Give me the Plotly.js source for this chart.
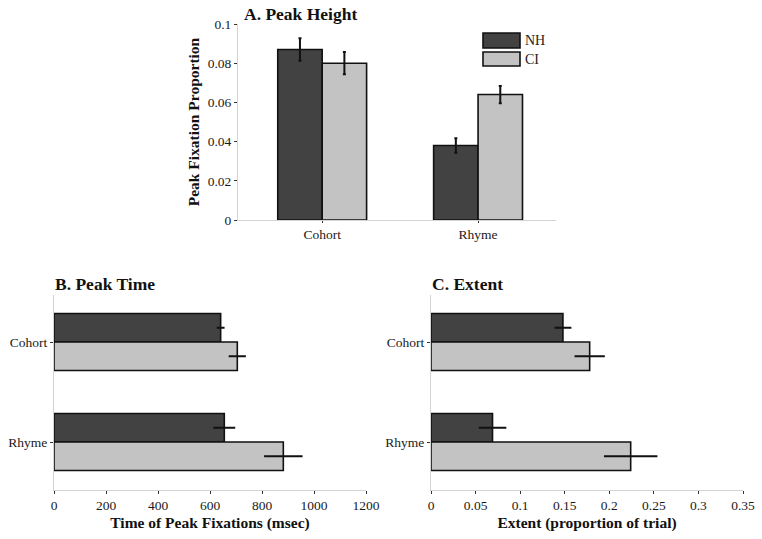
<!DOCTYPE html>
<html>
<head>
<meta charset="utf-8">
<script src="https://cdn.plot.ly/plotly-3.0.1.min.js"></script>
<style>html,body{margin:0;padding:0;background:#fff}#chart{width:762px;height:539px}</style>
</head>
<body>
<div id="chart"></div>
<script>
// ---- data ----
var categories = ['Cohort', 'Rhyme'];
var seriesNames = ['NH', 'CI'];

var heightNH = [0.087, 0.038];
var heightNHErr = [0.0057, 0.0037];
var heightCI = [0.080, 0.064];
var heightCIErr = [0.0057, 0.0044];

var timeNH = [641, 655];
var timeNHErr = [15, 42];
var timeCI = [705, 882];
var timeCIErr = [33, 74];

var extentNH = [0.148, 0.069];
var extentNHErr = [0.0095, 0.0155];
var extentCI = [0.178, 0.224];
var extentCIErr = [0.017, 0.030];

var heightTicks = [0, 0.02, 0.04, 0.06, 0.08, 0.1];
var timeTicks = [0, 200, 400, 600, 800, 1000, 1200];
var extentTicks = [0, 0.05, 0.1, 0.15, 0.2, 0.25, 0.3, 0.35];

// ---- styles ----
var colNH = '#424242';
var colCI = '#c3c3c3';
var serif = '"Liberation Serif", serif';
var outline = {color: '#111', width: 1.6};

function vbar(name, vals, errs, color, xa, ya) {
  return {type: 'bar', name: name, x: categories, y: vals, xaxis: xa, yaxis: ya,
    marker: {color: color, line: outline}, showlegend: false,
    error_y: {type: 'data', array: errs, visible: true, color: '#111', thickness: 2, width: 1.5}};
}
function hbar(name, vals, errs, color, xa, ya) {
  return {type: 'bar', orientation: 'h', name: name, y: categories, x: vals, xaxis: xa, yaxis: ya,
    marker: {color: color, line: outline}, showlegend: false,
    error_x: {type: 'data', array: errs, visible: true, color: '#111', thickness: 2, width: 0}};
}

var data = [
  vbar(seriesNames[0], heightNH, heightNHErr, colNH, 'x', 'y'),
  vbar(seriesNames[1], heightCI, heightCIErr, colCI, 'x', 'y'),
  hbar(seriesNames[0], timeNH, timeNHErr, colNH, 'x2', 'y2'),
  hbar(seriesNames[1], timeCI, timeCIErr, colCI, 'x2', 'y2'),
  hbar(seriesNames[0], extentNH, extentNHErr, colNH, 'x3', 'y3'),
  hbar(seriesNames[1], extentCI, extentCIErr, colCI, 'x3', 'y3')
];

var tickFont = {family: serif, size: 13.5, color: '#1a1a1a'};
var titleFont = {family: serif, size: 15.5, color: '#111', weight: 'bold'};
function axisBase() {
  return {showline: true, linecolor: '#d4d4d4', linewidth: 1, ticks: 'outside', ticklen: 3,
    tickcolor: '#333', tickwidth: 1, showgrid: false, zeroline: false, tickfont: tickFont, fixedrange: true};
}

var W = 762, H = 539;
function px(x) { return x / W; }
function py(y) { return 1 - y / H; }

var layout = {
  width: W, height: H,
  margin: {l: 0, r: 0, t: 0, b: 0},
  paper_bgcolor: '#fff', plot_bgcolor: '#fff',
  barmode: 'group', bargap: 0.43, bargroupgap: 0,
  font: {family: serif},
  xaxis: Object.assign(axisBase(), {anchor: 'y', domain: [px(238), px(556)], type: 'category', range: [-0.54, 1.5], ticklen: 2}),
  yaxis: Object.assign(axisBase(), {anchor: 'x', domain: [py(220), py(24)], range: [0, 0.1], tickvals: heightTicks,
    title: {text: 'Peak Fixation Proportion', font: titleFont, standoff: 4}}),
  xaxis2: Object.assign(axisBase(), {anchor: 'y2', domain: [px(54), px(366)], range: [0, 1200], tickvals: timeTicks,
    title: {text: 'Time of Peak Fixations (msec)', font: titleFont, standoff: 4}}),
  yaxis2: Object.assign(axisBase(), {anchor: 'x2', domain: [py(490), py(295)], type: 'category', range: [1.48, -0.47]}),
  xaxis3: Object.assign(axisBase(), {anchor: 'y3', domain: [px(431), px(743)], range: [0, 0.35], tickvals: extentTicks,
    title: {text: 'Extent (proportion of trial)', font: titleFont, standoff: 4}}),
  yaxis3: Object.assign(axisBase(), {anchor: 'x3', domain: [py(490), py(295)], type: 'category', range: [1.48, -0.47]}),
  annotations: [
    {text: 'A. Peak Height', xref: 'paper', yref: 'paper', x: px(242), y: py(14), xanchor: 'left', yanchor: 'middle', showarrow: false,
      font: {family: serif, size: 17.5, color: '#111', weight: 'bold'}},
    {text: 'B. Peak Time', xref: 'paper', yref: 'paper', x: px(53), y: py(284), xanchor: 'left', yanchor: 'middle', showarrow: false,
      font: {family: serif, size: 17.5, color: '#111', weight: 'bold'}},
    {text: 'C. Extent', xref: 'paper', yref: 'paper', x: px(430), y: py(284), xanchor: 'left', yanchor: 'middle', showarrow: false,
      font: {family: serif, size: 17.5, color: '#111', weight: 'bold'}},
    {text: seriesNames[0], xref: 'paper', yref: 'paper', x: px(523), y: py(40.5), xanchor: 'left', yanchor: 'middle', showarrow: false,
      font: {family: serif, size: 14, color: '#222'}},
    {text: seriesNames[1], xref: 'paper', yref: 'paper', x: px(523), y: py(59), xanchor: 'left', yanchor: 'middle', showarrow: false,
      font: {family: serif, size: 14, color: '#222'}}
  ],
  shapes: [
    {type: 'rect', xref: 'paper', yref: 'paper', x0: px(483), x1: px(520), y0: py(48), y1: py(33),
      fillcolor: colNH, line: outline},
    {type: 'rect', xref: 'paper', yref: 'paper', x0: px(483), x1: px(520), y0: py(66), y1: py(52),
      fillcolor: colCI, line: outline}
  ]
};

Plotly.newPlot('chart', data, layout, {displayModeBar: false, staticPlot: true});
</script>
</body>
</html>
